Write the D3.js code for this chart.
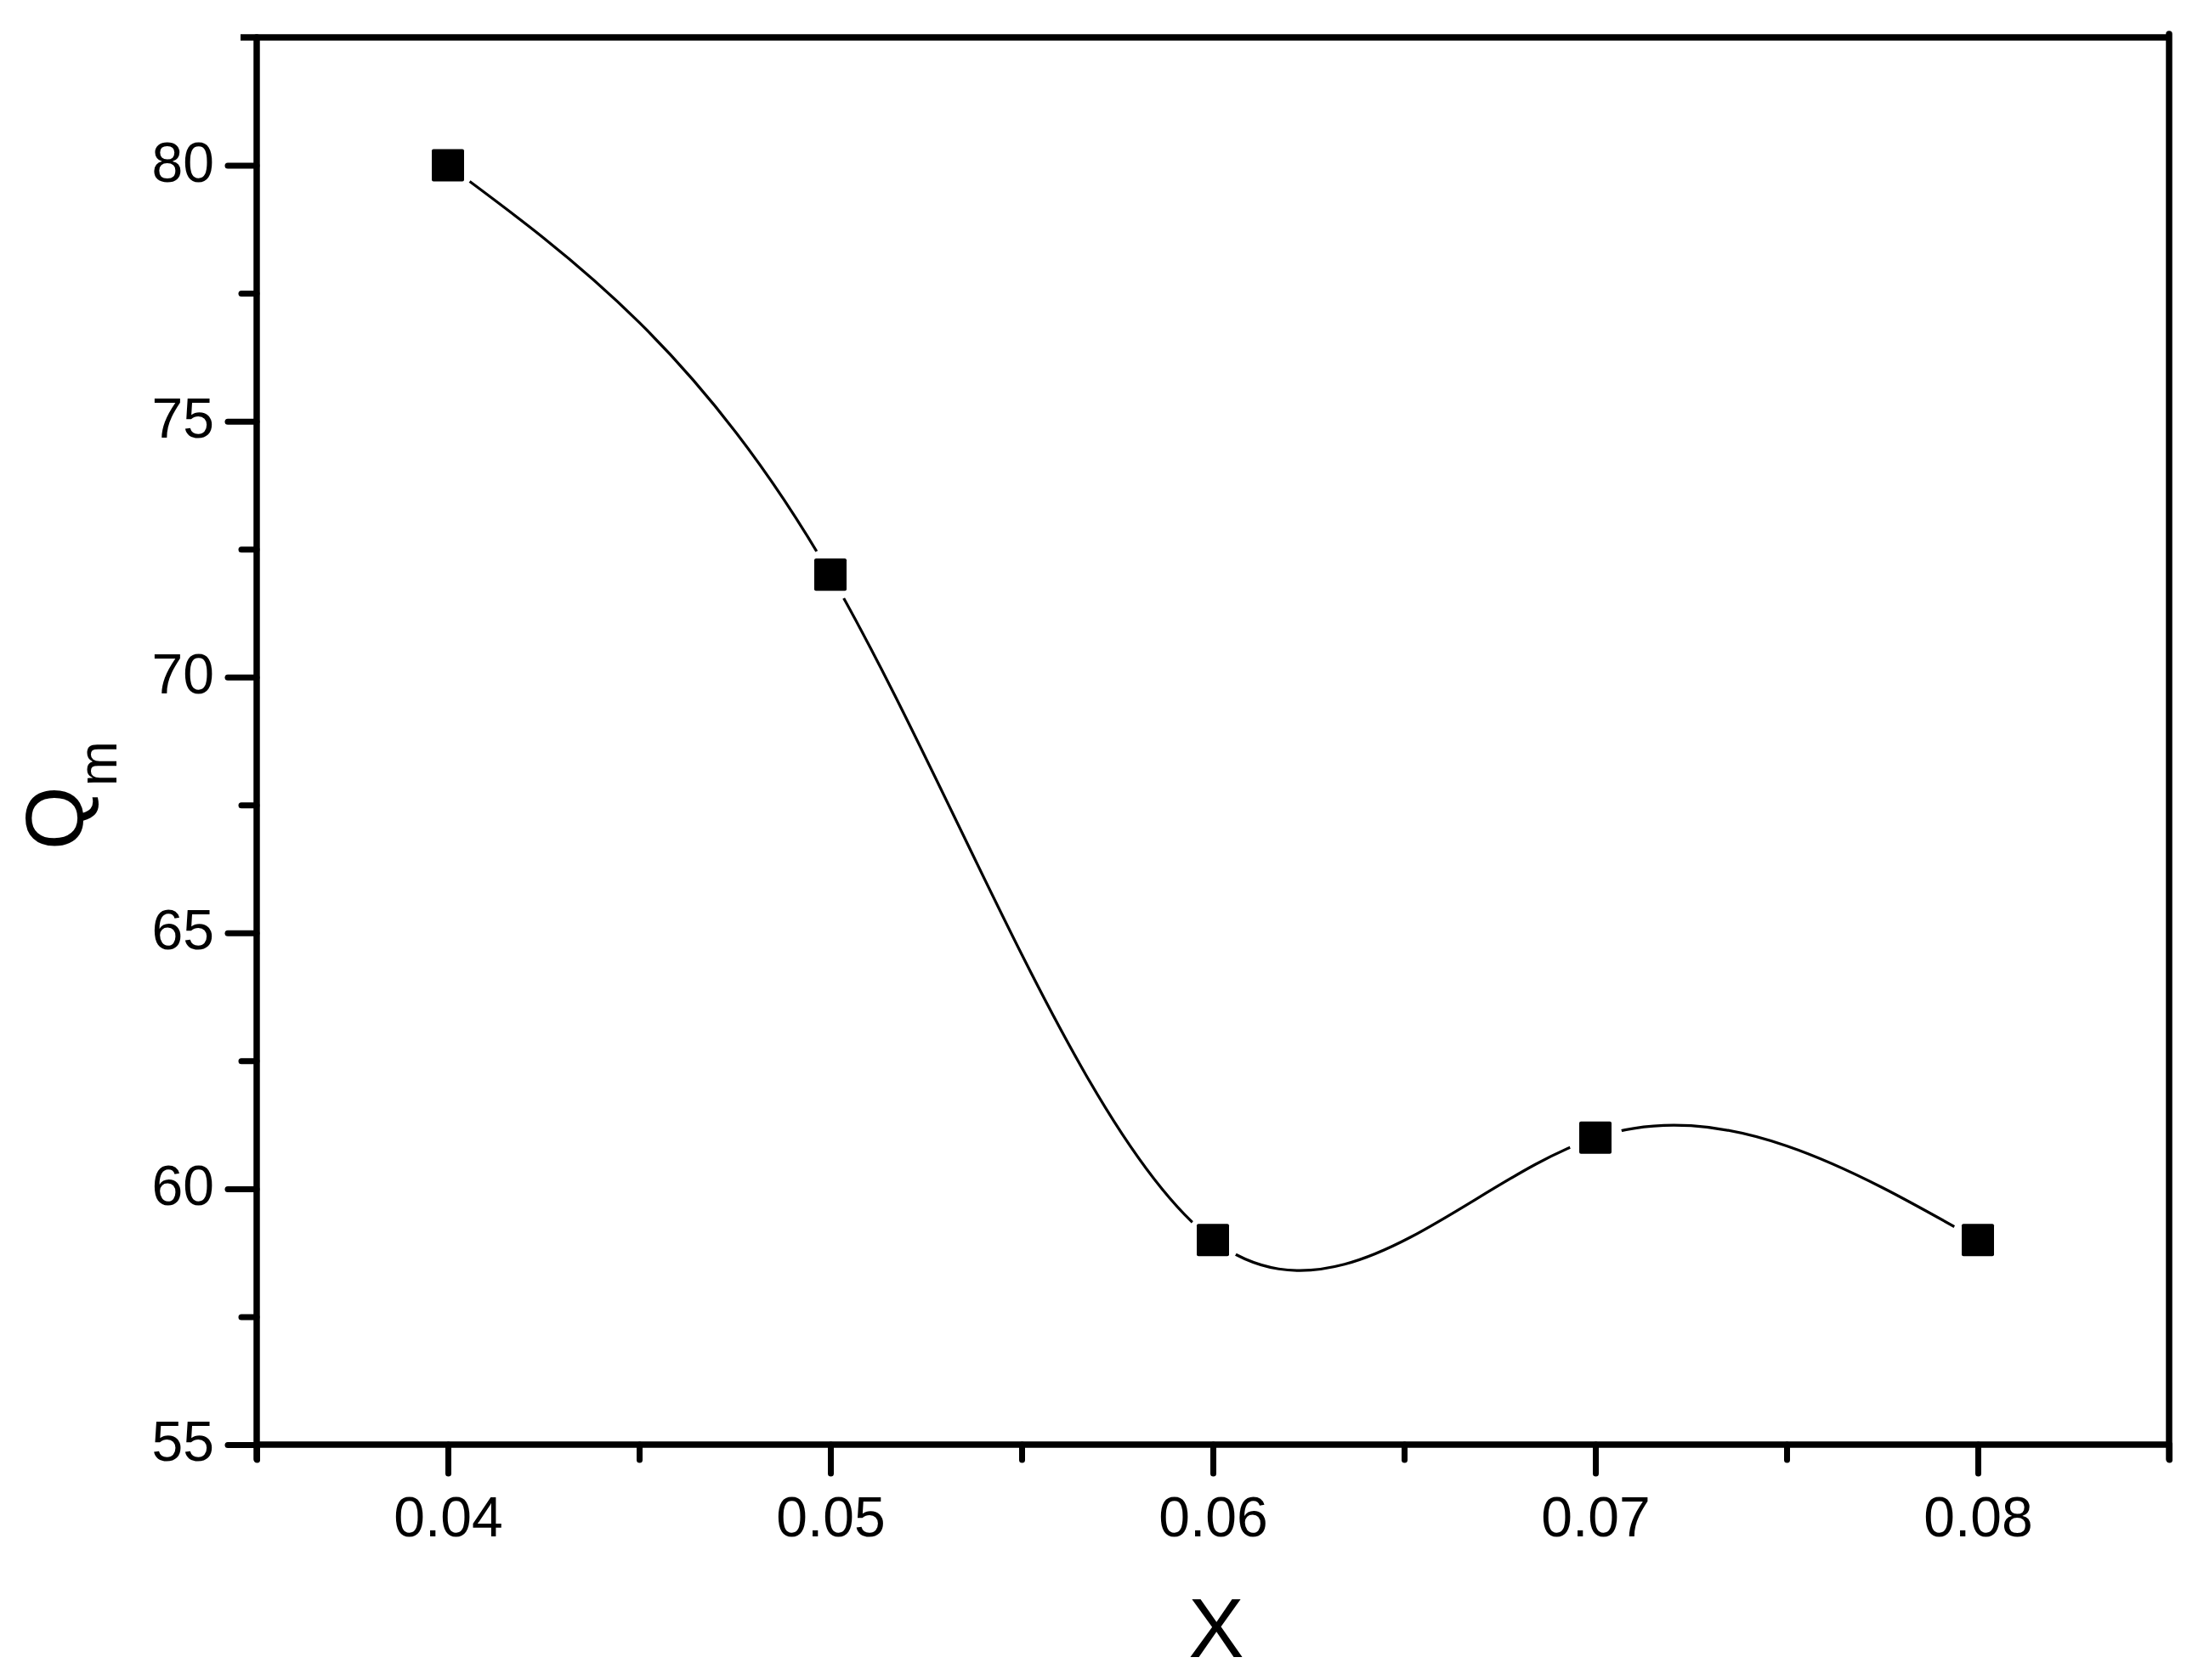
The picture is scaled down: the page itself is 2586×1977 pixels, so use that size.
<!DOCTYPE html>
<html>
<head>
  <meta charset="utf-8" />
  <script src="https://d3js.org/d3.v7.min.js"></script>
  <style>
  body { margin:0; background:#fff; }
  text { font-family: "Liberation Sans", Arial, sans-serif; fill:#000; }
  </style>
</head>
<body>
  <script>
  // data
  var xValues = [0.04, 0.05, 0.06, 0.07, 0.08];
  var qmValues = [80, 72, 59, 61, 59];
  var xTicks = [0.04, 0.05, 0.06, 0.07, 0.08];
  var xMinorTicks = [0.035, 0.045, 0.055, 0.065, 0.075, 0.085];
  var yTicks = [55, 60, 65, 70, 75, 80];
  var yMinorTicks = [57.5, 62.5, 67.5, 72.5, 77.5];

  var W = 2586, H = 1977;
  var mLeft = 302, mRight = 2552, mTop = 44, mBottom = 1700;

  var svg = d3.select("body").append("svg")
    .attr("width", W)
    .attr("height", H);

  var x = d3.scaleLinear().domain([0.035, 0.085]).range([mLeft, mRight]);
  var y = d3.scaleLinear().domain([55, 82.5]).range([mBottom, mTop]);

  // curve (natural cubic spline through the points)
  var pts = xValues.map(function(d, i) { return [d, qmValues[i]]; });
  var line = d3.line()
    .x(function(d) { return x(d[0]); })
    .y(function(d) { return y(d[1]); })
    .curve(d3.curveNatural);

  svg.append("path")
    .datum(pts)
    .attr("d", line)
    .attr("fill", "none")
    .attr("stroke", "#000")
    .attr("stroke-width", 3.2);

  // gaps round the symbols
  svg.selectAll(".gap").data(pts).enter().append("circle")
    .attr("cx", function(d) { return x(d[0]); })
    .attr("cy", function(d) { return y(d[1]); })
    .attr("r", 32)
    .attr("fill", "#fff");

  var s = 38;
  svg.selectAll(".pt").data(pts).enter().append("rect")
    .attr("x", function(d) { return x(d[0]) - s / 2; })
    .attr("y", function(d) { return y(d[1]) - s / 2; })
    .attr("width", s)
    .attr("height", s)
    .attr("rx", 2)
    .attr("fill", "#000");

  // frame
  var frame = svg.append("g").attr("stroke", "#000").attr("stroke-width", 7.5).attr("stroke-linecap", "round");
  frame.append("line").attr("x1", mLeft - 19).attr("x2", mRight + 3).attr("y1", mTop).attr("y2", mTop).attr("stroke-linecap", "butt");
  frame.append("line").attr("x1", mRight).attr("x2", mRight).attr("y1", mTop - 4).attr("y2", mBottom + 17);
  frame.append("line").attr("x1", mLeft).attr("x2", mLeft).attr("y1", mTop).attr("y2", mBottom + 17);
  frame.append("line").attr("x1", mLeft).attr("x2", mRight).attr("y1", mBottom).attr("y2", mBottom);

  // ticks
  var yAxis = svg.append("g").attr("transform", "translate(" + mLeft + ",0)")
    .call(d3.axisLeft(y).tickValues(yTicks).tickSize(34).tickSizeOuter(0).tickPadding(16));
  var yMinor = svg.append("g").attr("transform", "translate(" + mLeft + ",0)")
    .call(d3.axisLeft(y).tickValues(yMinorTicks).tickSize(18).tickFormat(""));
  var xAxis = svg.append("g").attr("transform", "translate(0," + mBottom + ")")
    .call(d3.axisBottom(x).tickValues(xTicks).tickSize(34).tickSizeOuter(0).tickPadding(26).tickFormat(d3.format(".2f")));
  var xMinor = svg.append("g").attr("transform", "translate(0," + mBottom + ")")
    .call(d3.axisBottom(x).tickValues(xMinorTicks).tickSize(18).tickFormat(""));

  [yAxis, yMinor, xAxis, xMinor].forEach(function(g) {
    g.select(".domain").remove();
    g.selectAll(".tick line").attr("stroke", "#000").attr("stroke-width", 7).attr("stroke-linecap", "round");
    g.selectAll(".tick text").attr("font-size", 66).attr("font-family", null).attr("fill", "#000");
  });
  yAxis.selectAll(".tick text").attr("dy", "0.28em");
  xAxis.selectAll(".tick text").attr("dy", "0.72em");

  // axis titles
  svg.append("text")
    .attr("x", (mLeft + mRight) / 2 + 4)
    .attr("y", 1950)
    .attr("text-anchor", "middle")
    .attr("font-size", 98)
    .text("X");

  var yl = svg.append("text")
    .attr("transform", "translate(98,1000) rotate(-90)")
    .attr("font-size", 96);
  yl.append("tspan").text("Q");
  yl.append("tspan").attr("dy", 39).attr("font-size", 64).text("m");
  </script>
</body>
</html>
